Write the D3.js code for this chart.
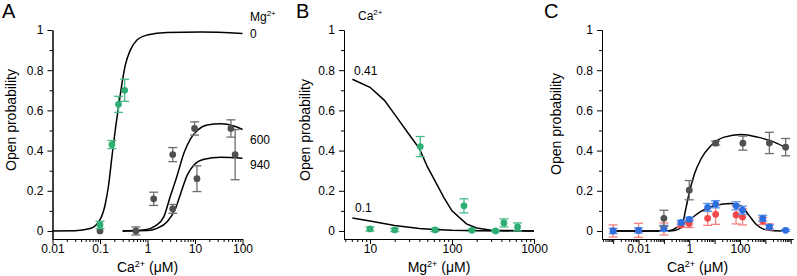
<!DOCTYPE html>
<html>
<head>
<meta charset="utf-8">
<script src="https://cdn.jsdelivr.net/npm/d3@7"></script>
<style>
body { margin: 0; background: #fff; }
svg { font-family: Arial, "Liberation Sans", sans-serif; }
</style>
</head>
<body>
<svg id="fig" width="797" height="276"></svg>
<script>
// ---- data ----
// panel A : Po vs Ca2+ at Mg2+ 0 / 600 / 940 uM
var aGreen = [[0.1,0.03,0.018],[0.178,0.43,0.02],[0.245,0.63,0.04],[0.33,0.70,0.055]];
var aGray  = [[0.1,0.0,0],[0.57,0.0,0.02],[1.35,0.16,0.033],[3.4,0.38,0.035],[3.4,0.11,0.022],
              [9.8,0.51,0.033],[11,0.26,0.064],[57,0.51,0.043],[70,0.38,0.125]];
var aFit0   = [[0.01,0],[0.03,0.001],[0.062,0.012],[0.101,0.058],[0.129,0.133],[0.151,0.225],[0.178,0.367],
               [0.209,0.5],[0.246,0.617],[0.29,0.733],[0.341,0.825],[0.435,0.9],[0.6,0.95],[0.98,0.975],
               [2.6,0.988],[13,0.99],[100,0.983]];
var aFit600 = [[0.3,0],[0.89,0.006],[1.47,0.025],[2.2,0.07],[3.0,0.17],[4.2,0.275],[5.8,0.385],[8.1,0.46],
               [11.2,0.5],[18,0.527],[35,0.533],[66,0.522],[100,0.505]];
var aFit940 = [[0.3,0],[1.0,0.002],[1.58,0.013],[2.6,0.046],[3.9,0.113],[5.0,0.187],[6.9,0.279],[9.5,0.328],
               [15.5,0.357],[35,0.367],[100,0.362]];
var aLabels = [["0",0.985],["600",0.455],["940",0.33]];

// panel B : Po vs Mg2+ at Ca2+ 0.41 / 0.1 uM
var bGreen = [[10,0.01,0.01],[20,0.005,0.008],[41,0.42,0.05],[62,0.005,0.008],[140,0.125,0.035],
              [175,0.003,0.006],[340,0.0,0.004],[430,0.04,0.02],[630,0.02,0.02]];
var bFit041 = [[6.1,0.755],[10,0.715],[15,0.65],[20,0.58],[30,0.48],[40,0.41],[50,0.32],[60,0.26],
               [80,0.165],[100,0.1],[150,0.035],[200,0.015],[300,0.003],[1000,0]];
var bFit01  = [[6.1,0.065],[10,0.05],[20,0.027],[40,0.012],[60,0.007],[100,0.003],[200,0.001],[1000,0]];

// panel C : three conditions
var cGray = [[0.1,0.063,0.04],[1,0.203,0.048],[11,0.437,0.01],[130,0.437,0.035],[1440,0.438,0.053],[6300,0.417,0.043]];
var cBlue = [[0.001,0,0.013],[0.01,0.003,0.013],[0.1,0.013,0.015],[0.48,0.042,0.01],[1,0.058,0.01],
             [5.3,0.117,0.02],[11,0.133,0.018],[70,0.125,0.02],[126,0.103,0.02],[790,0.063,0.015],
             [1440,0.02,0.01],[6300,0.003,0.005]];
var cRed  = [[0.001,0,0.03],[0.01,0.003,0.035],[0.1,0.01,0.03],[0.48,0.03,0.01],[1,0.037,0.02],
             [5.3,0.063,0.035],[11,0.083,0.05],[70,0.08,0.045],[126,0.07,0.04],[790,0.05,0.018],[1440,0.02,0.015]];
var cFitHi = [[0.001,0],[0.15,0],[0.26,0.002],[0.48,0.017],[0.75,0.117],[1,0.19],[1.6,0.283],[2.9,0.358],
              [7.2,0.425],[24,0.467],[110,0.48],[500,0.467],[2240,0.442],[6300,0.415]];
var cFitLo = [[0.001,0],[0.12,0],[0.2,0.004],[0.35,0.02],[0.87,0.05],[2.9,0.097],[10,0.125],[45,0.137],
              [110,0.125],[234,0.075],[430,0.033],[910,0.008],[2240,0.001],[6300,0]];

var yTicks = [0,0.2,0.4,0.6,0.8,1];
var yMinor = [0.1,0.3,0.5,0.7,0.9];

var green = "#2fae74", greenBar = "#45bb88";
var gray = "#505050", grayBar = "#6e6e6e";
var blue = "#2e6fe0", blueBar = "#5b93f0";
var red = "#f04848", redBar = "#f48080";

var svg = d3.select("#fig");

var y = d3.scaleLinear().domain([-0.04,1]).range([239,30]);

function panel(o) {
  var g = svg.append("g");
  var x = d3.scaleLog().domain(o.dom).range([o.x0,o.x1]);
  // minor ticks on log axis
  var lo = Math.floor(Math.log10(o.dom[0])), hi = Math.ceil(Math.log10(o.dom[1]));
  var major = [], minor = [];
  for (var e = lo; e <= hi; e++) {
    var v = Math.pow(10,e);
    if (v >= o.dom[0]*0.999 && v <= o.dom[1]*1.001) major.push(v);
    for (var k = 2; k <= 9; k++) {
      var m = k*v;
      if (m >= o.dom[0] && m <= o.dom[1]) minor.push(m);
    }
  }
  g.append("g").attr("transform","translate(0,239)")
    .call(d3.axisBottom(x).tickValues(minor).tickSize(3).tickFormat("").tickSizeOuter(0));
  g.append("g").attr("transform","translate(0,239)")
    .call(d3.axisBottom(x).tickValues(major).tickSize(5).tickSizeOuter(0)
      .tickFormat(function(d){ return o.labels.some(function(l){return Math.abs(l/d-1)<1e-6;}) ? d3.format("~g")(d) : ""; }))
    .call(function(s){ s.selectAll("text").attr("font-size",12).attr("fill","#000").attr("dy","0.71em").attr("y",5); });

  g.append("g").attr("transform","translate("+o.x0+",0)")
    .call(d3.axisLeft(y).tickValues(yMinor).tickSize(3).tickFormat("").tickSizeOuter(0));
  g.append("g").attr("transform","translate("+o.x0+",0)")
    .call(d3.axisLeft(y).tickValues(yTicks).tickSize(5).tickSizeOuter(0).tickFormat(d3.format("~g")))
    .call(function(s){ s.selectAll("text").attr("font-size",12).attr("fill","#000").attr("x",-9); });

  g.selectAll(".domain").attr("stroke","#000");
  g.selectAll(".tick line").attr("stroke","#000");

  // axis titles
  var t = g.append("text").attr("x",(o.x0+o.x1)/2).attr("y",272).attr("text-anchor","middle").attr("font-size",14);
  t.append("tspan").text(o.ion);
  t.append("tspan").text("2+").attr("font-size",9).attr("dy",-5);
  t.append("tspan").text(" (μM)").attr("dy",5);

  g.append("text").attr("transform","translate("+(o.ylx)+","+o.yly+") rotate(-90)")
    .attr("text-anchor","middle").attr("font-size",14).text("Open probability");

  g.append("text").attr("x",o.lx).attr("y",18).attr("font-size",20).text(o.letter);

  var line = d3.line().x(function(d){return x(d[0]);}).y(function(d){return y(d[1]);});
  o.fits.forEach(function(f){
    g.append("path").datum(f.d)
      .attr("d", line.curve(f.curve)(f.d))
      .attr("fill","none").attr("stroke","#000").attr("stroke-width",1.5);
  });

  o.sets.forEach(function(s){
    var sg = g.append("g");
    var bars = sg.selectAll(".eb").data(s.d.filter(function(d){return d[2]>0;})).enter().append("g")
      .attr("stroke",s.bar).attr("stroke-width",1.3);
    bars.append("line").attr("x1",function(d){return x(d[0]);}).attr("x2",function(d){return x(d[0]);})
      .attr("y1",function(d){return y(d[1]-d[2]);}).attr("y2",function(d){return y(d[1]+d[2]);});
    [1,-1].forEach(function(sg2){
      bars.append("line").attr("x1",function(d){return x(d[0])-4.5;}).attr("x2",function(d){return x(d[0])+4.5;})
        .attr("y1",function(d){return y(d[1]+sg2*d[2]);}).attr("y2",function(d){return y(d[1]+sg2*d[2]);});
    });
    sg.selectAll("circle").data(s.d).enter().append("circle")
      .attr("cx",function(d){return x(d[0]);}).attr("cy",function(d){return y(d[1]);})
      .attr("r",3.4).attr("fill",s.color);
  });
  return {g:g, x:x};
}

var A = panel({letter:"A", lx:2, x0:52.5, x1:242.5, dom:[0.01,100], labels:[0.01,0.1,1,10,100], ion:"Ca",
  ylx:16, yly:120,
  fits:[{d:aFit0,curve:d3.curveMonotoneX},{d:aFit600,curve:d3.curveMonotoneX},{d:aFit940,curve:d3.curveMonotoneX}],
  sets:[{d:aGray,color:gray,bar:grayBar},{d:aGreen,color:green,bar:greenBar}]});
A.g.selectAll(".lab").data(aLabels).enter().append("text")
  .attr("x",250).attr("y",function(d){return y(d[1])+4.5;}).attr("font-size",12).text(function(d){return d[0];});
var mg = A.g.append("text").attr("x",250).attr("y",21).attr("font-size",12);
mg.append("tspan").text("Mg");
mg.append("tspan").text("2+").attr("font-size",8).attr("dy",-5);

var B = panel({letter:"B", lx:296, x0:344, x1:534, dom:[4.82,1000], labels:[10,100,1000], ion:"Mg",
  ylx:310, yly:130,
  fits:[{d:bFit041,curve:d3.curveLinear},{d:bFit01,curve:d3.curveLinear}],
  sets:[{d:bGreen,color:green,bar:greenBar}]});
B.g.append("text").attr("x",354).attr("y",75).attr("font-size",12).text("0.41");
B.g.append("text").attr("x",355).attr("y",212).attr("font-size",12).text("0.1");
var ca = B.g.append("text").attr("x",358).attr("y",20).attr("font-size",12);
ca.append("tspan").text("Ca");
ca.append("tspan").text("2+").attr("font-size",8).attr("dy",-5);

var C = panel({letter:"C", lx:544, x0:602, x1:793, dom:[Math.pow(10,-3.44),Math.pow(10,4.09)], labels:[0.01,1,100], ion:"Ca",
  ylx:561, yly:124,
  fits:[{d:cFitHi,curve:d3.curveMonotoneX},{d:cFitLo,curve:d3.curveMonotoneX}],
  sets:[{d:cRed,color:red,bar:redBar},{d:cBlue,color:blue,bar:blueBar},{d:cGray,color:gray,bar:grayBar}]});
</script>
</body>
</html>
